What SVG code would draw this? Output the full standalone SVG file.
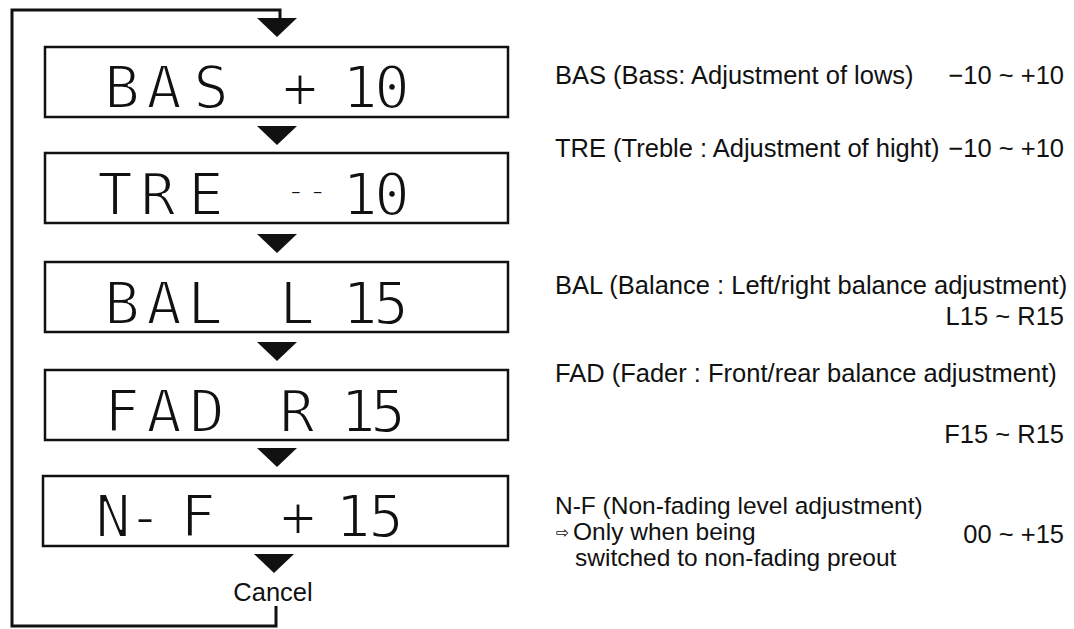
<svg xmlns="http://www.w3.org/2000/svg" width="1074" height="629" viewBox="0 0 1074 629">
<style>
.box{fill:#fff;stroke:#111;stroke-width:2.5}
.lcd{font-family:"DejaVu Sans Mono",monospace;font-size:59px;fill:#111;text-anchor:middle;stroke:#fff;stroke-width:2}
.dash{font-family:"DejaVu Sans Mono",monospace;font-size:36px;fill:#111;stroke:#fff;stroke-width:1.5}
.lbl{font-family:"Liberation Sans",Arial,sans-serif;font-size:25.5px;fill:#111}
.rng{font-family:"Liberation Sans",Arial,sans-serif;font-size:25.5px;fill:#111;text-anchor:end}
.arr{fill:#111}
.line{fill:none;stroke:#111;stroke-width:3}
</style>
<rect width="1074" height="629" fill="#fff"/>
<g id="connectors">
<path class="line" d="M276,606 V626 H12 V10 H280 V20"/>
<polygon class="arr" points="257,18 297,18 277,37"/>
<polygon class="arr" points="257,126 297,126 277,145"/>
<polygon class="arr" points="257,234 297,234 277,253"/>
<polygon class="arr" points="257,342 297,342 277,361"/>
<polygon class="arr" points="257,448 297,448 277,467"/>
<polygon class="arr" points="254,554 294,554 274,573"/>
<text class="lbl" x="273" y="601" text-anchor="middle" font-size="26">Cancel</text>
</g>
<g id="node-bas">
<rect class="box" x="45" y="47" width="463" height="70"/>
<text class="lcd" x="122 164 211" y="108">BAS</text>
<text class="lcd" x="300" y="108">+</text>
<text class="lcd" x="360 392" y="108">10</text>
<text class="lbl" x="555" y="84">BAS (Bass: Adjustment of lows)</text>
<text class="rng" x="1064" y="84">−10 ~ +10</text>
</g>
<g id="node-tre">
<rect class="box" x="45" y="153" width="463" height="70"/>
<text class="lcd" x="115 158 206" y="215">TRE</text>
<text class="dash" x="285" y="202">--</text>
<text class="lcd" x="360 392" y="215">10</text>
<text class="lbl" x="555" y="157">TRE (Treble : Adjustment of hight)</text>
<text class="rng" x="1064" y="157">−10 ~ +10</text>
</g>
<g id="node-bal">
<rect class="box" x="45" y="262" width="463" height="70"/>
<text class="lcd" x="122 164 205" y="324">BAL</text>
<text class="lcd" x="297" y="324">L</text>
<text class="lcd" x="360 391" y="324">15</text>
<text class="lbl" x="555" y="294">BAL (Balance : Left/right balance adjustment)</text>
<text class="rng" x="1064" y="325">L15 ~ R15</text>
</g>
<g id="node-fad">
<rect class="box" x="45" y="370" width="463" height="70"/>
<text class="lcd" x="122 164 207" y="432">FAD</text>
<text class="lcd" x="297" y="432">R</text>
<text class="lcd" x="358 388" y="432">15</text>
<text class="lbl" x="555" y="382">FAD (Fader : Front/rear balance adjustment)</text>
<text class="rng" x="1064" y="443">F15 ~ R15</text>
</g>
<g id="node-nf">
<rect class="box" x="43" y="476" width="465" height="70"/>
<text class="lcd" x="113 145 198" y="537">N-F</text>
<text class="lcd" x="298" y="537">+</text>
<text class="lcd" x="353 386" y="537">15</text>
<text class="lbl" x="555" y="514" style="font-size:24.5px">N-F (Non-fading level adjustment)</text>
<text x="556" y="538" style="font-family:'DejaVu Sans',sans-serif;font-size:16px;fill:#111">⇨</text>
<text class="lbl" x="573" y="540" style="font-size:24.5px">Only when being</text>
<text class="rng" x="1064" y="543">00 ~ +15</text>
<text class="lbl" x="575" y="566" style="font-size:24.5px">switched to non-fading preout</text>
</g>
</svg>
